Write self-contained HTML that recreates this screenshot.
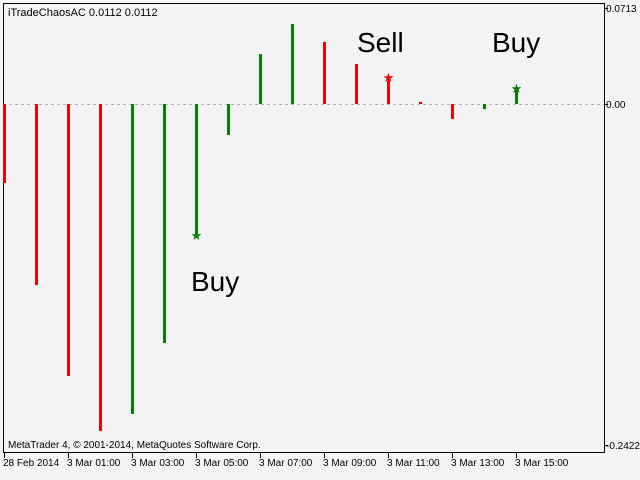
<!DOCTYPE html>
<html><head><meta charset="utf-8"><style>
body{margin:0;width:640px;height:480px;background:#f4f4f4;overflow:hidden;font-family:"Liberation Sans","DejaVu Sans",sans-serif}
svg{display:block}
</style></head><body>
<svg id="c" width="640" height="480">
<rect x="0" y="0" width="640" height="480" fill="#f4f4f4"/>
<rect x="3.5" y="3.5" width="601" height="449" fill="#f4f4f4" stroke="#000"/>
<text x="8" y="16" font-size="11" fill="#000">iTradeChaosAC 0.0112 0.0112</text>
<text x="8" y="448" font-size="10" fill="#000">MetaTrader 4, © 2001-2014, MetaQuotes Software Corp.</text>
<line x1="3" y1="104.5" x2="604" y2="104.5" stroke="#b4b4b4" stroke-dasharray="3,3"/>
<text x="357" y="52" font-size="28" fill="#000">Sell</text>
<text x="492" y="52" font-size="28" fill="#000">Buy</text>
<text x="191" y="291" font-size="28" fill="#000">Buy</text>
<g id="bars"></g>
<g id="axis"></g>
</svg>
<script>
const values=[-0.0587,-0.1345,-0.2021,-0.2429,-0.2303,-0.1776,-0.0973,-0.0230,0.0371,0.0594,0.0461,0.0297,0.0201,0.0015,-0.0111,-0.0037,0.0119];
const colors=["r","r","r","r","g","g","g","g","g","g","r","r","r","r","r","g","g"];
const stars=[6,12,16];
const timeLabels=["28 Feb 2014","3 Mar 01:00","3 Mar 03:00","3 Mar 05:00","3 Mar 07:00","3 Mar 09:00","3 Mar 11:00","3 Mar 13:00","3 Mar 15:00"];
const yTicks=[0.0713,0.00,-0.2422];
const yTickText=["0.0713","0.00","-0.2422"];
const NS="http://www.w3.org/2000/svg";
const xS=i=>4+i*32;
const yS=v=>104-v*1346;
const bars=document.getElementById('bars'),axis=document.getElementById('axis');
function mk(t,a,p){const e=document.createElementNS(NS,t);for(const k in a)e.setAttribute(k,a[k]);p.appendChild(e);return e;}
values.forEach((v,i)=>{
  const y0=yS(0),y1=yS(v);
  const r=mk('rect',{x:xS(i)-1,y:Math.min(y0,y1),width:3,height:Math.max(1,Math.abs(y1-y0)),fill:colors[i]==="r"?"#ff0000":"#008000"},bars);
  
  
});
stars.forEach(i=>{
  const s=mk('text',{x:xS(i)+0.5,y:yS(values[i])+5,'font-size':13,'text-anchor':'middle',fill:colors[i]==="r"?"#ff0000":"#008000"},bars);
  s.textContent="★";
  
  
});
timeLabels.forEach((t,i)=>{
  const x=i===0?4:xS(i*2);
  const l=mk('line',{x1:x+0.5,y1:453,x2:x+0.5,y2:458,stroke:"#000"},axis);
  
  
  const tx=mk('text',{x:i===0?3:x-1,y:466,'font-size':10,fill:"#000"},axis);
  tx.textContent=t;
  
  
});
yTicks.forEach((v,i)=>{
  const y=i===2?445:yS(v);
  const l=mk('line',{x1:604,y1:y+0.5,x2:608,y2:y+0.5,stroke:"#000"},axis);
  
  
  const tx=mk('text',{x:606,y:y+4,'font-size':10,fill:"#000"},axis);
  tx.textContent=yTickText[i];
  
  
});
</script>
</body></html>
